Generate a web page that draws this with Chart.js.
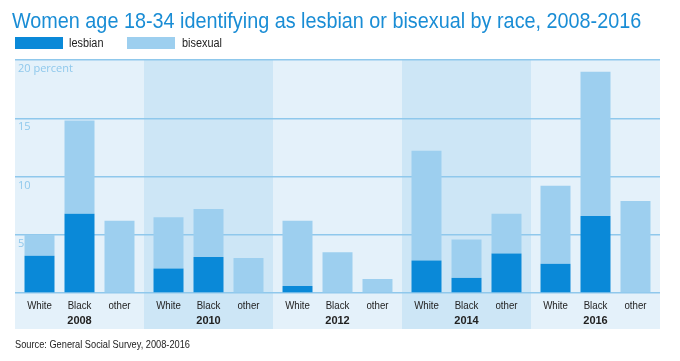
<!DOCTYPE html>
<html>
<head>
<meta charset="utf-8">
<script src="https://cdn.jsdelivr.net/npm/chart.js@4"></script>
<style>
  body { margin: 0; background: #fff; }
  #wrap { position: relative; width: 680px; height: 361px; overflow: hidden; }
  .txt { position: absolute; font-family: "Liberation Sans", sans-serif; white-space: nowrap; transform-origin: left top; }
  #title { left: 12px; top: 8px; font-size: 22px; color: #1a8dd5; transform: scaleX(0.9); }
  .leg { position: absolute; top: 37px; height: 12px; width: 48px; }
  .legText { top: 36px; font-size: 12.5px; color: #222; transform: scaleX(0.87); }
  #source { left: 15px; top: 338px; font-size: 11px; color: #222; transform: scaleX(0.84); }
  #chartBox { position: absolute; left: 0; top: 0; width: 680px; height: 361px; }
</style>
</head>
<body>
<div id="wrap">
  <div id="chartBox"><canvas id="chart"></canvas></div>
  <div id="title" class="txt">Women age 18-34 identifying as lesbian or bisexual by race, 2008-2016</div>
  <div class="leg" style="left:15px; background:#0a89d8"></div>
  <div class="txt legText" style="left:69px">lesbian</div>
  <div class="leg" style="left:127px; background:#9dcfef"></div>
  <div class="txt legText" style="left:182px">bisexual</div>
  <div id="source" class="txt">Source: General Social Survey, 2008-2016</div>
</div>
<script>
const years = ["2008", "2010", "2012", "2014", "2016"];
const races = ["White", "Black", "other"];

// percent of women 18-34, per year
const lesbianWhite = [3.2, 2.1, 0.6, 2.8, 2.5];
const bisexualWhite = [1.8, 4.4, 5.6, 9.4, 6.7];
const lesbianBlack = [6.8, 3.1, 0, 1.3, 6.6];
const bisexualBlack = [8.0, 4.1, 3.5, 3.3, 12.4];
const lesbianOther = [0, 0, 0, 3.4, 0];
const bisexualOther = [6.2, 3.0, 1.2, 3.4, 7.9];

const yTicks = [0, 5, 10, 15, 20];

const darkBlue = "#0a89d8";
const lightBlue = "#9dcfef";

const series = [
  [lesbianWhite, bisexualWhite],
  [lesbianBlack, bisexualBlack],
  [lesbianOther, bisexualOther]
];

const datasets = [];
races.forEach((race, r) => {
  datasets.push({ label: "lesbian " + race, data: series[r][0], stack: race, backgroundColor: darkBlue });
  datasets.push({ label: "bisexual " + race, data: series[r][1], stack: race, backgroundColor: lightBlue });
});

// background + alternating year bands
const bands = {
  id: "bands",
  beforeDraw(chart) {
    const { ctx, chartArea, scales } = chart;
    const x = scales.x;
    const bottom = chartArea.bottom + 36;
    ctx.save();
    ctx.fillStyle = "#e4f1fa";
    ctx.fillRect(chartArea.left, chartArea.top - 1, chartArea.right - chartArea.left, bottom - chartArea.top + 1);
    const w = (chartArea.right - chartArea.left) / years.length;
    ctx.fillStyle = "#cde6f6";
    years.forEach((y, i) => {
      if (i % 2 === 1) {
        const cx = x.getPixelForValue(i);
        ctx.fillRect(cx - w / 2, chartArea.top - 1, w, bottom - chartArea.top + 1);
      }
    });
    ctx.restore();
  }
};

// race names under each bar
const raceLabels = {
  id: "raceLabels",
  afterDraw(chart) {
    const { ctx, chartArea } = chart;
    ctx.save();
    ctx.font = "11px 'Liberation Sans', sans-serif";
    ctx.fillStyle = "#222";
    ctx.textAlign = "center";
    ctx.textBaseline = "middle";
    races.forEach((race, r) => {
      chart.getDatasetMeta(r * 2).data.forEach(bar => {
        ctx.save();
        ctx.translate(bar.x, chartArea.bottom + 13);
        ctx.scale(0.88, 1);
        ctx.fillText(race, 0, 0);
        ctx.restore();
      });
    });
    ctx.restore();
  }
};

new Chart(document.getElementById("chart"), {
  type: "bar",
  data: { labels: years, datasets: datasets },
  plugins: [bands, raceLabels],
  options: {
    responsive: true,
    maintainAspectRatio: false,
    animation: false,
    layout: { padding: { left: 15, right: 20, top: 60, bottom: 32 } },
    datasets: { bar: { categoryPercentage: 0.93, barPercentage: 0.75 } },
    plugins: { legend: { display: false }, tooltip: { enabled: false } },
    scales: {
      x: {
        grid: { display: false, drawTicks: false },
        border: { display: false },
        ticks: {
          padding: 21,
          maxRotation: 0,
          color: "#222",
          font: { family: "'Liberation Sans', sans-serif", size: 11, weight: "bold" }
        },
        afterFit(scale) { scale.height = 36; }
      },
      y: {
        stacked: true,
        min: 0,
        max: 20,
        afterBuildTicks(scale) { scale.ticks = yTicks.map(v => ({ value: v })); },
        grid: { color: "#8fc8ec", lineWidth: 1.5, drawTicks: false },
        border: { display: false },
        ticks: {
          mirror: true,
          padding: 3,
          labelOffset: 9,
          color: "#8fc8ec",
          font: { family: "'Open Sans', sans-serif", size: 11 },
          callback: v => v === 0 ? "" : (v === 20 ? "20 percent" : v)
        },
        afterFit(scale) { scale.width = 0; }
      }
    }
  }
});
</script>
</body>
</html>
